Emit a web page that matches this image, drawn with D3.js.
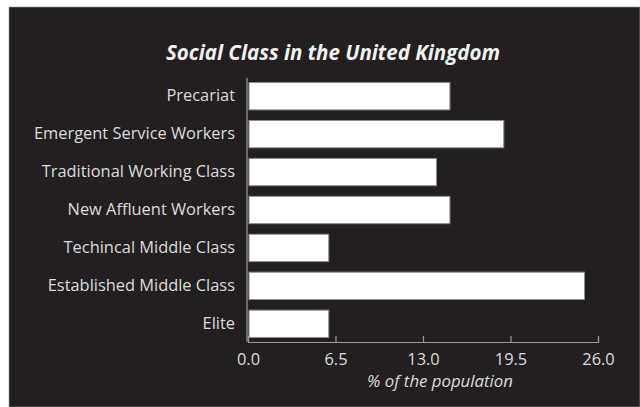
<!DOCTYPE html>
<html>
<head>
<meta charset="utf-8">
<script src="https://cdn.jsdelivr.net/npm/d3@7"></script>
<style>
  html, body { margin: 0; padding: 0; background: #ffffff; }
  svg { display: block; }
  text { font-family: "Open Sans", sans-serif; }
</style>
</head>
<body>
<svg id="chart" width="640" height="407"></svg>
<script>
// Social classes (top to bottom) and their share of the population, in %
const categories = [
  "Precariat",
  "Emergent Service Workers",
  "Traditional Working Class",
  "New Affluent Workers",
  "Techincal Middle Class",
  "Established Middle Class",
  "Elite"
];
const shares = [15, 19, 14, 15, 6, 25, 6];
const xTicks = [0, 6.5, 13, 19.5, 26];

const titleText = "Social Class in the United Kingdom";
const xLabel = "% of the population";

(function () {
  const svg = d3.select("#chart");
  const W = 640, H = 407;

  // dark panel
  svg.append("rect")
    .attr("x", 9).attr("y", 7)
    .attr("width", W - 9).attr("height", H - 7)
    .attr("fill", "#231f20")
    .attr("stroke", "#9a9a9a").attr("stroke-width", 0.6);

  const mLeft = 248, mRight = 598, mTop = 78, mBottom = 342;

  const x = d3.scaleLinear().domain([0, 26]).range([mLeft, mRight]);
  const y = d3.scaleBand().domain(categories).range([mTop, mBottom])
    .paddingInner(0.28).paddingOuter(0.12);

  const data = categories.map((c, i) => ({ c, v: shares[i] }));

  // bars
  svg.append("g").selectAll("rect").data(data).join("rect")
    .attr("x", x(0) + 1)
    .attr("y", d => y(d.c))
    .attr("width", d => x(d.v) - x(0) - 1)
    .attr("height", y.bandwidth())
    .attr("fill", "#ffffff")
    .attr("stroke", "#8c8c8c")
    .attr("stroke-width", 1);

  // y axis
  const yAxis = svg.append("g")
    .attr("transform", `translate(${mLeft - 1},0)`)
    .call(d3.axisLeft(y).tickSize(0).tickPadding(12));
  yAxis.select(".domain").attr("stroke", "#9a9a9a").attr("stroke-width", 1.2)
    .attr("d", `M0,${mTop}V${mBottom}`);
  yAxis.selectAll("text")
    .attr("fill", "#dcdcdc")
    .style("font-size", "16.4px");

  // x axis
  const xAxis = svg.append("g")
    .attr("transform", `translate(0,${mBottom})`)
    .call(d3.axisBottom(x).tickValues(xTicks).tickFormat(d3.format(".1f"))
      .tickSizeInner(-6).tickSizeOuter(-6).tickPadding(11));
  xAxis.select(".domain").attr("stroke", "#9a9a9a").attr("stroke-width", 1.2);
  xAxis.selectAll(".tick line").attr("stroke", "#9a9a9a").attr("stroke-width", 1.2);
  xAxis.selectAll("text")
    .attr("fill", "#dcdcdc")
    .style("font-size", "16.4px");

  // x axis title
  svg.append("text")
    .attr("x", 440).attr("y", 387)
    .attr("text-anchor", "middle")
    .attr("fill", "#dcdcdc")
    .style("font-size", "16.8px")
    .style("font-style", "italic")
    .text(xLabel);

  // chart title
  svg.append("text")
    .attr("x", 333).attr("y", 60)
    .attr("text-anchor", "middle")
    .attr("fill", "#f2f2f2")
    .style("font-size", "20.5px")
    .style("font-weight", "bold")
    .style("font-style", "italic")
    .text(titleText);
})();
</script>
</body>
</html>
